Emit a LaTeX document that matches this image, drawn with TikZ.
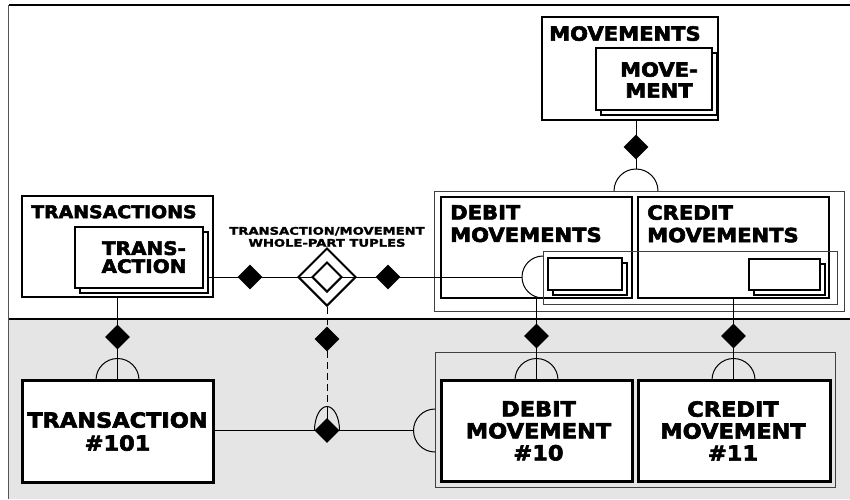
\documentclass[tikz,border=0pt]{standalone}
\usepackage{fontspec}
\usetikzlibrary{shapes.geometric}
\newfontfamily\hv{DejaVu Sans Bold}[FakeStretch=1.08,FakeBold=3]
\newfontfamily\hvw{DejaVu Sans Bold}[FakeStretch=1.25,FakeBold=2]
\newcommand\fsz[2]{\hv\fontsize{#1}{#2}\selectfont}
\definecolor{lowgray}{HTML}{E5E5E5}
\definecolor{framegray}{HTML}{555555}

\begin{document}
\begin{tikzpicture}[x=1pt,y=-1pt,
  box/.style={draw=black,line width=2.3pt,fill=white,inner sep=0pt},
  heavybox/.style={draw=black,line width=3pt,fill=white,inner sep=0pt},
  card/.style={draw=black,line width=1.8pt,fill=white,inner sep=0pt},
  group/.style={draw=black!75,line width=1pt,inner sep=0pt},
  link/.style={line width=1pt},
  dashlink/.style={line width=1pt,dash pattern=on 7pt off 4pt},
  key/.style={diamond,fill=black,inner sep=0pt,minimum size=25pt},
  ring/.style={diamond,draw=black,line width=2pt,fill=white,inner sep=0pt},
  txt/.style={inner sep=0pt,text=black}
]
% canvas and the two areas
\fill[white] (0,0) rectangle (850,499);
\useasboundingbox (0,0) rectangle (850,499);
\fill[lowgray] (9,319) rectangle (850,499);
\draw[line width=1.2pt] (9,319) -- (850,319);
\draw[framegray,line width=1.8pt] (8.5,499) -- (8.5,5);
\draw[line width=1.8pt] (8.5,5) -- (850,5);

% group frames
\node[group,minimum width=410,minimum height=120] (mvset) at (639,251) {};
\node[group,minimum width=400,minimum height=135] (inst) at (635,419.5) {};

% TRANSACTIONS collection
\node[box,minimum width=191,minimum height=101] (transactions) at (117.5,246.5) {};
\node[txt,anchor=north west,font={\fsz{17.5}{20}}] (transactionslbl) at (31,205) {TRANSACTIONS};
\node[card,minimum width=128,minimum height=61] (trback) at (144,262.5) {};
\node[card,minimum width=128,minimum height=61] (trcard) at (139,257.5) {};
\node[txt,anchor=north,align=center,font={\fsz{18.5}{18}}] (trlbl) at (144,241) {TRANS-\\ACTION};

% MOVEMENTS collection
\node[box,minimum width=176,minimum height=103] (movements) at (630,68.5) {};
\node[txt,anchor=north west,font={\fsz{19.5}{22}}] (movementslbl) at (549,26) {MOVEMENTS};
\node[card,minimum width=116,minimum height=62] (mvback) at (659,84) {};
\node[card,minimum width=116,minimum height=62] (mvcard) at (654,79) {};
\node[txt,anchor=north,align=center,font={\fsz{19.5}{21}}] (mvlbl) at (659,62) {MOVE-\\MENT};

% DEBIT / CREDIT MOVEMENTS
\node[box,minimum width=191,minimum height=101] (debits) at (536.5,247.5) {};
\node[box,minimum width=191,minimum height=101] (credits) at (733.5,247.5) {};
\node[txt,anchor=north west,align=left,font={\fsz{19.5}{22.5}}] (debitslbl) at (450,205) {DEBIT\\MOVEMENTS};
\node[txt,anchor=north west,align=left,font={\fsz{19.5}{22.5}}] (creditslbl) at (647,205) {CREDIT\\MOVEMENTS};
\node[group,minimum width=294,minimum height=53] (mvrel) at (690,277.5) {};
\node[card,minimum width=74,minimum height=32] (dback) at (590,279) {};
\node[card,minimum width=74,minimum height=32] (dcard) at (585,274) {};
\node[card,minimum width=71,minimum height=31] (cback) at (789.5,279.5) {};
\node[card,minimum width=71,minimum height=31] (ccard) at (784.5,274.5) {};

% whole-part tuples
\node[ring,minimum size=58] (tuple) at (327,277) {};
\node[txt,anchor=north,align=center,font={\hvw\fontsize{10.5}{12}\selectfont}] (tuplelbl) at (327,226.7) {TRANSACTION/MOVEMENT\\WHOLE-PART TUPLES};

% instances
\node[heavybox,minimum width=191,minimum height=102] (txn) at (117.5,431) {};
\node[txt,anchor=north,align=center,font={\fsz{20.8}{23}}] (txnlbl) at (117.5,412) {TRANSACTION\\\#101};
\node[heavybox,minimum width=191,minimum height=101] (dm) at (536.5,430.5) {};
\node[txt,anchor=north,align=center,font={\fsz{20.8}{22}}] (dmlbl) at (538.5,401) {DEBIT\\MOVEMENT\\\#10};
\node[heavybox,minimum width=192,minimum height=101] (cm) at (734,430.5) {};
\node[txt,anchor=north,align=center,font={\fsz{20.8}{22}}] (cmlbl) at (733,401) {CREDIT\\MOVEMENT\\\#11};

% connector end points
\coordinate (dbarc) at (522,277);
\coordinate (instarc) at (413.5,430.5);
\coordinate (jtop) at (327,406.5);
\coordinate (mvtop) at (636,169);

% transaction -> tuples -> debit movements
\draw[link] (trback.east |- tuple.center) -- (tuple.center);
\draw[link] (tuple.center) -- (dbarc);
\node[ring,minimum size=30] (tuplein) at (327,277) {};
\draw[link] (543,256) arc[start angle=270,end angle=90,radius=21];
\node[key] (k1) at (250,277) {};
\node[key] (k2) at (388,277) {};

% movements -> debit/credit movements
\draw[link] (movements.south -| mvtop) -- (mvtop);
\draw[link] (614,191) arc[start angle=180,end angle=360,radius=22];
\node[key] (k0) at (636,147) {};

% transactions -> transaction #101
\draw[link] (transactions.south) -- (txn.north);
\draw[link] (96,380) arc[start angle=180,end angle=360,radius=21.5];
\node[key] (k3) at (117.5,337) {};

% tuples -> junction
\draw[dashlink] (tuple.south) -- (jtop);
\draw[link] (jtop) -- (327,430.5);
\draw[link] (314.5,430.5) arc[start angle=180,end angle=360,x radius=12.5,y radius=24];
\node[key] (k4) at (327,339) {};

% transaction #101 -> movement instances
\draw[link] (txn.east |- instarc) -- (instarc);
\draw[link] (435,409) arc[start angle=270,end angle=90,radius=21.5];
\node[key] (junction) at (327,430.5) {};

% debit / credit collections -> instances
\draw[link] (debits.south) -- (dm.north);
\draw[link] (515,380) arc[start angle=180,end angle=360,radius=21.5];
\node[key] (k5) at (536.5,336) {};
\draw[link] (credits.south) -- (credits.south |- cm.north);
\draw[link] (712,380) arc[start angle=180,end angle=360,radius=21.5];
\node[key] (k6) at (733.5,336) {};
\end{tikzpicture}
\end{document}
